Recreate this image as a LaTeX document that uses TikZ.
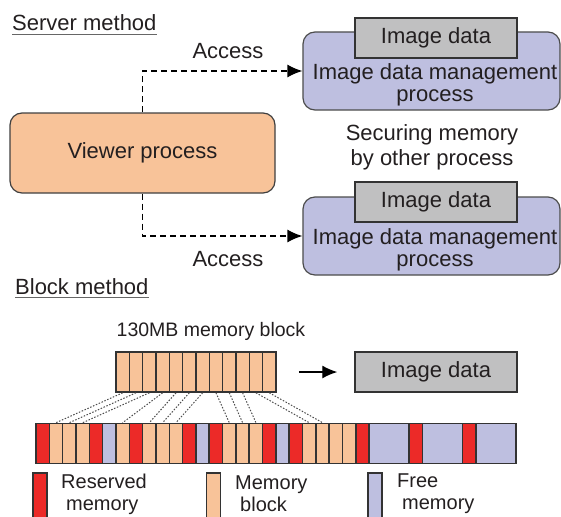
\documentclass[tikz,border=0pt]{standalone}
\usepackage{fontspec}
\setmainfont{Liberation Sans}
\usepackage{tikz}
\usetikzlibrary{arrows.meta}
\definecolor{inkgray}{HTML}{231F20}
\definecolor{vieworange}{HTML}{F8C399}
\definecolor{procblue}{HTML}{BEBFE0}
\definecolor{datagray}{HTML}{C0C0C1}
\definecolor{resvred}{HTML}{EC2A28}
\tikzset{>={Latex[length=15pt,width=13pt]},
    procbox/.style={draw=black!70, fill=procblue, line width=1.2pt, rounded corners=12pt,
      minimum width=257pt, minimum height=78pt},
    databox/.style={draw=black!80, fill=datagray, line width=1.5pt, inner sep=0pt,
      minimum width=162pt, minimum height=40pt},
    cell/.style={draw=black!80, line width=1.6pt, inner sep=0pt, minimum height=40pt}}

\begin{document}
\begin{tikzpicture}[x=1pt, y=-1pt, font=\fontsize{22}{22}\selectfont, text=inkgray,
      access/.style={->, line width=1.5pt, dash pattern=on 6pt off 4pt},
      mapline/.style={black!70, line width=1pt, dash pattern=on 1.5pt off 1.6pt},
      underl/.style={black!60, line width=1.2pt},
      keytext/.style={anchor=west, align=left, inner sep=0pt, font=\fontsize{20}{22}\selectfont}]
  \useasboundingbox (0,0) rectangle (561,516);
  % Server method
  \node[anchor=base west, inner sep=0pt] (srv) at (12,31) {Server method};
  \draw[underl] ([yshift=-3.5pt]srv.base west) -- ([yshift=-3.5pt]srv.base east);
  \node[draw=black!75, fill=vieworange, rounded corners=12pt, line width=1.2pt,
    minimum width=265pt, minimum height=80pt] (viewer) at (142.5,153) {Viewer process};
  \node[procbox] (mgmtA) at (431.5,71) {};
  \node[databox] (dataA) at (436,38) {Image data};
  \node[align=center, inner sep=0pt] (mgmtAtext) at (435,85) {Image data management\\process};
  \node[procbox] (mgmtB) at (431.5,236) {};
  \node[databox] (dataB) at (436,202) {Image data};
  \node[align=center, inner sep=0pt] (mgmtBtext) at (435,250) {Image data management\\process};
  \node[align=center, inner sep=0pt] (secure) at (432,147) {Securing memory\\[3pt]by other process};
  \draw[access] (viewer.north) |- (mgmtA.west);
  \draw[access] (viewer.south) |- (mgmtB.west);
  \node[inner sep=0pt] (accA) at (228,51) {Access};
  \node[inner sep=0pt] (accB) at (228,259) {Access};
  % Block method
  \node[anchor=base west, inner sep=0pt] (blk) at (15,294) {Block method};
  \draw[underl] ([yshift=-3.5pt]blk.base west) -- ([yshift=-3.5pt]blk.base east);
  \node[inner sep=0pt, font=\fontsize{19.5}{22}\selectfont] (blklabel) at (211,331) {130MB memory block};
  \foreach \i in {1,...,12}
    \node[cell, fill=vieworange, minimum width=13.33pt] (m\i) at ({116+13.33*(\i-0.5)},372) {};
  \node[databox] (dataC) at (436,372) {Image data};
  \draw[->, line width=1.2pt] ([xshift=22pt]m12.east) -- ([xshift=-17pt]dataC.west);
  % Memory strip
  \foreach \u/\w/\col in {1/1/resvred, 2/1/vieworange, 3/1/vieworange, 4/1/vieworange,
      5/1/resvred, 6/1/procblue, 7/1/vieworange, 8/1/resvred, 9/1/vieworange,
      10/1/vieworange, 11/1/vieworange, 12/1/resvred, 13/1/procblue, 14/1/resvred,
      15/1/vieworange, 16/1/vieworange, 17/1/vieworange, 18/1/resvred, 19/1/procblue,
      20/1/resvred, 21/1/vieworange, 22/1/vieworange, 23/1/vieworange, 24/1/vieworange,
      25/1/resvred, 26/3/procblue, 29/1/resvred, 30/3/procblue, 33/1/resvred, 34/3/procblue}
  {
    \pgfmathsetmacro\cw{\w*13.33}
    \node[cell, fill=\col, minimum width=\cw pt] (s\u) at ({36+13.33*(\u-1+\w/2)},443.5) {};
  }
  \foreach \m/\s in {1/2, 2/3, 3/4, 4/7, 5/9, 6/10, 7/11, 8/15, 9/16, 10/17, 11/21, 12/22}
    \draw[mapline] (m\m.south) -- (s\s.north);
  % Legend
  \node[cell, fill=resvred, minimum width=14pt, minimum height=46pt] (keyresv) at (40,496) {};
  \node[keytext] (keyresvtext) at (61,494) {Reserved\\\hspace{5pt}memory};
  \node[cell, fill=vieworange, minimum width=14pt, minimum height=46pt] (keyblk) at (213.5,496) {};
  \node[keytext] (keyblktext) at (235,494) {Memory\\\hspace{5pt}block};
  \node[cell, fill=procblue, minimum width=14pt, minimum height=46pt] (keyfree) at (375,496) {};
  \node[keytext] (keyfreetext) at (397,494) {Free\\\hspace{5pt}memory};
\end{tikzpicture}
\end{document}
